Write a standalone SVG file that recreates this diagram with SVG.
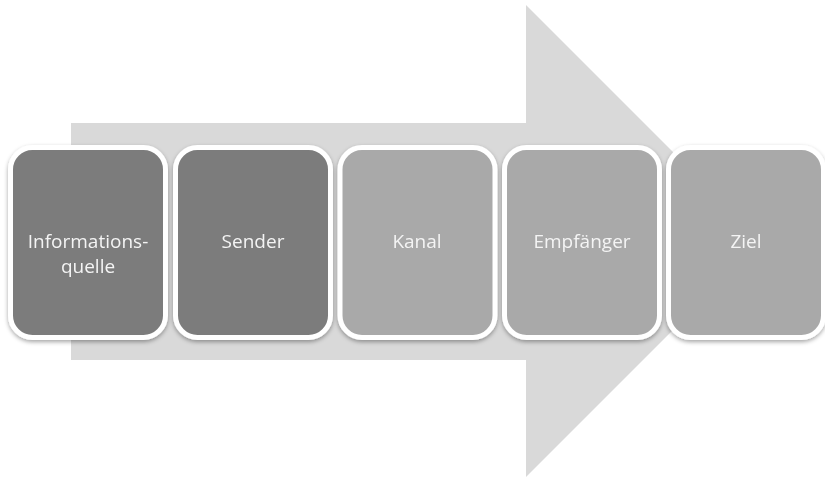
<svg xmlns="http://www.w3.org/2000/svg" width="825" height="479" viewBox="0 0 825 479">
<style>
.box{stroke:#ffffff;stroke-width:5}
.dark{fill:#7b7b7b}
.light{fill:#a9a9a9}
.lbl{font-family:"Open Sans","Liberation Sans",sans-serif;font-size:19px;fill:#f4f4f4;text-anchor:middle}
</style>
<defs>
<filter id="sh" x="-10%" y="-10%" width="120%" height="120%">
<feDropShadow dx="0" dy="2" stdDeviation="2" flood-color="#000" flood-opacity="0.35"/>
</filter>
</defs>
<rect width="825" height="479" fill="#ffffff"/>
<g id="arrow">
<polygon points="71,123 526,123 526,5 762,241 526,477 526,360 71,360" fill="#d9d9d9"/>
</g>
<g id="connectors"></g>
<g id="n1" filter="url(#sh)">
<rect class="box dark" x="10.5" y="147.5" width="155" height="190" rx="22"/>
<text class="lbl" x="88" y="248">Informations-</text>
<text class="lbl" x="88" y="273">quelle</text>
</g>
<g id="n2" filter="url(#sh)">
<rect class="box dark" x="175.5" y="147.5" width="155" height="190" rx="22"/>
<text class="lbl" x="253" y="248">Sender</text>
</g>
<g id="n3" filter="url(#sh)">
<rect class="box light" x="340" y="147.5" width="155" height="190" rx="22"/>
<text class="lbl" x="417" y="248">Kanal</text>
</g>
<g id="n4" filter="url(#sh)">
<rect class="box light" x="504.5" y="147.5" width="155" height="190" rx="22"/>
<text class="lbl" x="582" y="248">Empfänger</text>
</g>
<g id="n5" filter="url(#sh)">
<rect class="box light" x="668.5" y="147.5" width="155" height="190" rx="22"/>
<text class="lbl" x="746" y="248">Ziel</text>
</g>
</svg>
